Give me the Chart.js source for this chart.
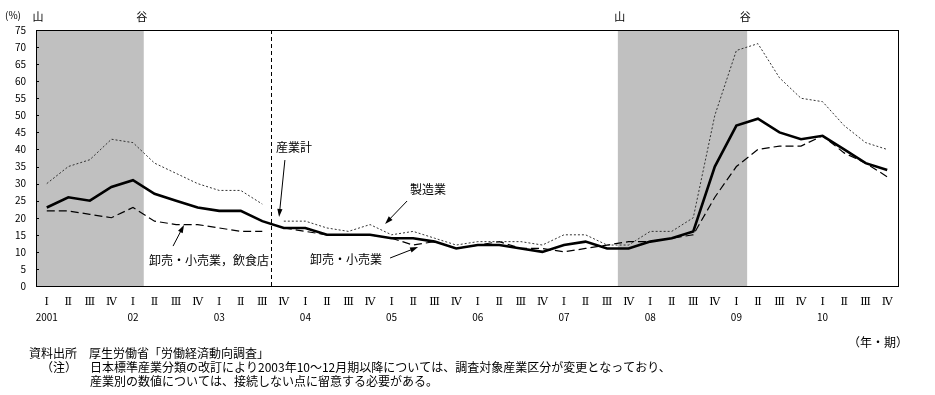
<!DOCTYPE html>
<html>
<head>
<meta charset="utf-8">
<script src="https://cdn.jsdelivr.net/npm/chart.js@4.4.1/dist/chart.umd.min.js"></script>
<style>
  html, body { margin: 0; padding: 0; background: #fff; }
  canvas { display: block; }
</style>
</head>
<body>
<canvas id="chart" width="935" height="395"></canvas>
<script>
const JP = '"Noto Sans CJK JP", "Noto Sans", sans-serif';

// quarter / year labels (2001 I – 2010 IV)
const QUARTERS = ['Ⅰ', 'Ⅱ', 'Ⅲ', 'Ⅳ'];
const YEARS = ['2001', '02', '03', '04', '05', '06', '07', '08', '09', '10'];

// 産業計
const TOTAL = [23, 26, 25, 29, 31, 27, 25, 23, 22, 22, 19,
  17, 17, 15, 15, 15, 14, 14, 13, 11, 12, 12, 11, 10, 12, 13, 11, 11, 13, 14,
  16, 35, 47, 49, 45, 43, 44, 40, 36, 34];
// 製造業
const MANUFACTURING = [30, 35, 37, 43, 42, 36, 33, 30, 28, 28, 24,
  19, 19, 17, 16, 18, 15, 16, 14, 12, 13, 13, 13, 12, 15, 15, 12, 12, 16, 16,
  20, 50, 69, 71, 61, 55, 54, 47, 42, 40];
// 卸売・小売業，飲食店 (〜2003 III) / 卸売・小売業 (2003 IV〜)
const WHOLESALE = [22, 22, 21, 20, 23, 19, 18, 18, 17, 16, 16,
  17, 16, 15, 15, 15, 14, 12, 13, 11, 12, 13, 11, 11, 10, 11, 12, 13, 13, 14,
  15, 26, 35, 40, 41, 41, 44, 39, 36, 32];

// industry classification changed after this index (2003 III -> IV)
const BREAK_AFTER = 10;
// recession periods: 山 .. 谷 (quarter indices)
const RECESSIONS = [[0, 4], [27, 32]];

const labels = TOTAL.map((_, i) => QUARTERS[i % 4]);

// callouts, placed in data space (index, %)
const NOTES = [
  { text: '産業計', at: [10.64, 40.7], from: [11.05, 36.9], to: [10.78, 20.2] },
  { text: '製造業', at: [16.86, 28.4], from: [16.72, 24.9], to: [15.7, 18.2] },
  { text: '卸売・小売業', at: [12.21, 7.9], from: [15.93, 8.2], to: [17.23, 11.4] },
  { text: '卸売・小売業，飲食店', at: [4.74, 7.6], from: [5.86, 11.7], to: [6.37, 17.9] },
];

const hideBreak = ctx => ctx.p0DataIndex === BREAK_AFTER ? 'rgba(0,0,0,0)' : undefined;

function arrow(ctx, x0, y0, x1, y1) {
  const a = Math.atan2(y1 - y0, x1 - x0);
  const len = 8, w = 2.6;
  ctx.beginPath();
  ctx.moveTo(x0, y0);
  ctx.lineTo(x1 - Math.cos(a) * len * 0.8, y1 - Math.sin(a) * len * 0.8);
  ctx.stroke();
  ctx.beginPath();
  ctx.moveTo(x1, y1);
  ctx.lineTo(x1 - Math.cos(a) * len + Math.sin(a) * w, y1 - Math.sin(a) * len - Math.cos(a) * w);
  ctx.lineTo(x1 - Math.cos(a) * len - Math.sin(a) * w, y1 - Math.sin(a) * len + Math.cos(a) * w);
  ctx.closePath();
  ctx.fill();
}

const decorations = {
  id: 'decorations',
  beforeDatasetsDraw(chart) {
    const { ctx, chartArea: ca, scales: { x } } = chart;
    ctx.save();
    ctx.fillStyle = '#c0c0c0';
    RECESSIONS.forEach(([s, e]) => {
      const x0 = x.getPixelForValue(s - 0.5);
      const x1 = x.getPixelForValue(e + 0.5);
      ctx.fillRect(x0, ca.top, x1 - x0, ca.bottom - ca.top);
    });
    // classification change
    const bx = Math.round(x.getPixelForValue(BREAK_AFTER + 0.4)) + 0.5;
    ctx.strokeStyle = '#000';
    ctx.lineWidth = 1;
    ctx.setLineDash([4, 3]);
    ctx.beginPath();
    ctx.moveTo(bx, ca.top);
    ctx.lineTo(bx, ca.bottom);
    ctx.stroke();
    ctx.restore();
  },
  afterDatasetsDraw(chart) {
    const { ctx, chartArea: ca, scales: { x, y } } = chart;
    ctx.save();
    // frame
    ctx.strokeStyle = '#000';
    ctx.lineWidth = 1;
    ctx.strokeRect(Math.round(ca.left) + 0.5, Math.round(ca.top) + 0.5,
      Math.round(ca.right - ca.left), Math.round(ca.bottom - ca.top));
    // small inward ticks on the value axis
    ctx.beginPath();
    y.ticks.forEach(t => {
      const py = Math.round(y.getPixelForValue(t.value)) + 0.5;
      ctx.moveTo(ca.left, py);
      ctx.lineTo(ca.left + 3, py);
    });
    ctx.stroke();

    // callouts
    ctx.fillStyle = '#000';
    ctx.font = '12px ' + JP;
    ctx.textBaseline = 'middle';
    ctx.textAlign = 'left';
    ctx.lineWidth = 1;
    NOTES.forEach(n => {
      ctx.fillText(n.text, x.getPixelForValue(n.at[0]), y.getPixelForValue(n.at[1]));
      arrow(ctx, x.getPixelForValue(n.from[0]), y.getPixelForValue(n.from[1]),
        x.getPixelForValue(n.to[0]), y.getPixelForValue(n.to[1]));
    });

    // year labels under the quarters
    ctx.font = '10px ' + JP;
    ctx.textAlign = 'center';
    YEARS.forEach((yr, k) => {
      ctx.fillText(yr, x.getPixelForValue(k * 4), ca.bottom + 31);
    });

    // 山 / 谷 markers
    ctx.font = '11px ' + JP;
    RECESSIONS.forEach(([s, e]) => {
      ctx.fillText('山', x.getPixelForValue(s - 0.5) + 2, ca.top - 13);
      ctx.fillText('谷', x.getPixelForValue(e + 0.5) - 2, ca.top - 13);
    });

    // unit labels
    ctx.font = '10px ' + JP;
    ctx.textAlign = 'left';
    ctx.fillText('(%)', 5, ca.top - 15);
    ctx.font = '12px ' + JP;
    ctx.textAlign = 'right';
    ctx.fillText('（年・期）', 908, 342);

    // source / notes
    ctx.textAlign = 'left';
    ctx.fillText('資料出所', 29, 353);
    ctx.fillText('厚生労働省「労働経済動向調査」', 89, 353);
    ctx.fillText('（注）', 41, 367);
    ctx.fillText('日本標準産業分類の改訂により2003年10～12月期以降については、調査対象産業区分が変更となっており、', 90, 367);
    ctx.fillText('産業別の数値については、接続しない点に留意する必要がある。', 90, 381);
    ctx.restore();
  },
};

new Chart(document.getElementById('chart'), {
  type: 'line',
  data: {
    labels,
    datasets: [
      {
        label: '製造業',
        data: MANUFACTURING,
        borderColor: '#333',
        borderWidth: 1,
        borderDash: [2, 2],
        segment: { borderColor: hideBreak },
      },
      {
        label: '卸売・小売業',
        data: WHOLESALE,
        borderColor: '#000',
        borderWidth: 1.2,
        borderDash: [8, 4],
        segment: { borderColor: hideBreak },
      },
      {
        label: '産業計',
        data: TOTAL,
        borderColor: '#000',
        borderWidth: 2.6,
      },
    ],
  },
  options: {
    responsive: false,
    animation: false,
    elements: { point: { radius: 0 }, line: { tension: 0 } },
    layout: { padding: { top: 30, right: 37, bottom: 69, left: 0 } },
    plugins: {
      legend: { display: false },
      tooltip: { enabled: false },
    },
    scales: {
      x: {
        offset: true,
        grid: { display: false, drawTicks: false },
        border: { display: false },
        ticks: {
          autoSkip: false,
          maxRotation: 0,
          padding: 10,
          color: '#000',
          font: { family: '"DejaVu Serif", serif', size: 11 },
        },
        afterFit: s => { s.height = 40; },
      },
      y: {
        min: 0,
        max: 75,
        grid: { display: false, drawTicks: false },
        border: { display: false },
        ticks: {
          stepSize: 5,
          padding: 10,
          color: '#000',
          font: { family: JP, size: 10 },
        },
        afterFit: s => { s.width = 36; },
      },
    },
  },
  plugins: [decorations],
});
</script>
</body>
</html>
